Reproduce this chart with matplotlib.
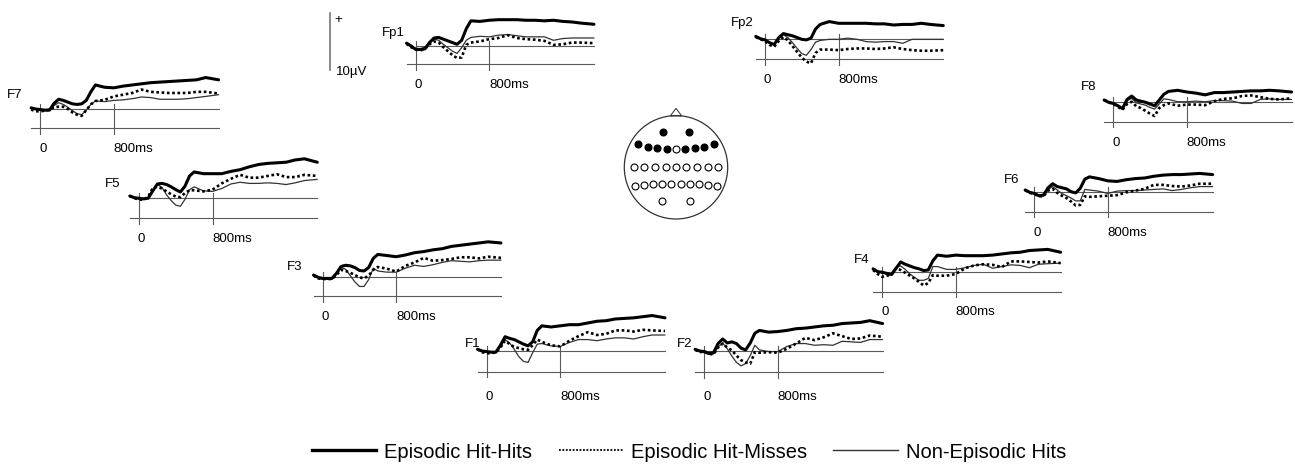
import matplotlib
matplotlib.use("Agg")
import matplotlib.pyplot as plt
from matplotlib.lines import Line2D
from matplotlib.patches import Circle, Polygon

plt.rcParams["font.family"] = ["Liberation Sans", "DejaVu Sans"]

W, H, DPI = 1295, 471, 100

# ── data: grand-average ERPs (µV, positive up) ─────────────────────────────
T_MS = [-100, -50, 0, 50, 100, 150, 200, 250, 300, 350, 400, 450, 500, 550,
        600, 700, 800, 900, 1000, 1100, 1200, 1300, 1400, 1500, 1600, 1700,
        1800, 1940]

ELECTRODES = ["Fp1", "Fp2", "F7", "F8", "F5", "F6", "F3", "F4", "F1", "F2"]

HIT_HITS = {
    "Fp1": [0.5, 0.0, -0.6, -0.6, -0.5, 0.6, 1.4, 1.5, 1.2, 0.9, 0.6, 0.3, 1.0, 3.0, 4.4,
            4.3, 4.5, 4.6, 4.6, 4.6, 4.5, 4.5, 4.4, 4.5, 4.3, 4.2, 4.0, 3.8],
    "Fp2": [0.5, 0.1, -0.1, -0.6, -0.9, 0.3, 1.0, 0.8, 0.6, 0.3, 0.0, -0.1, 0.2, 1.8, 2.6,
            3.1, 2.8, 2.8, 2.8, 2.8, 2.7, 2.7, 2.5, 2.6, 2.6, 2.8, 2.6, 2.4],
    "F7": [0.2, 0.0, -0.1, -0.2, -0.2, 1.0, 1.7, 1.5, 1.2, 0.9, 0.8, 0.9, 1.5, 3.0, 4.2,
           3.8, 3.7, 4.0, 4.2, 4.4, 4.6, 4.7, 4.8, 4.9, 5.0, 5.1, 5.5, 5.1],
    "F8": [0.4, 0.0, -0.2, -0.6, -1.1, 0.5, 1.1, 0.4, 0.2, 0.0, -0.3, -0.6, 0.4, 1.4, 1.9,
           2.1, 1.8, 1.6, 1.3, 1.7, 1.7, 1.8, 1.9, 2.0, 2.0, 2.1, 2.0, 1.8],
    "F5": [0.3, 0.0, -0.1, -0.2, -0.1, 1.2, 2.4, 2.5, 2.3, 1.9, 1.4, 1.0, 2.0, 3.8, 4.5,
           4.2, 4.2, 4.2, 4.6, 4.9, 5.4, 5.8, 6.0, 6.1, 6.2, 6.6, 6.8, 6.2],
    "F6": [0.4, 0.0, -0.2, -0.6, -0.5, 0.8, 1.5, 1.0, 0.8, 0.6, 0.1, -0.1, 0.7, 2.3, 2.7,
           2.4, 2.0, 1.9, 2.2, 2.4, 2.5, 2.8, 3.0, 3.1, 3.1, 3.2, 3.3, 3.1],
    "F3": [0.4, 0.0, -0.2, -0.2, -0.2, 0.7, 1.9, 2.1, 2.0, 1.7, 1.2, 1.1, 1.7, 3.3, 4.0,
           3.8, 3.6, 3.9, 4.3, 4.5, 4.8, 5.0, 5.4, 5.6, 5.8, 6.0, 6.2, 6.0],
    "F4": [0.5, 0.0, -0.1, -0.3, -0.5, 0.6, 1.7, 1.3, 1.0, 0.7, 0.5, 0.2, 0.3, 1.9, 2.9,
           2.7, 2.9, 2.8, 2.8, 2.8, 2.9, 3.1, 3.3, 3.4, 3.7, 3.8, 3.9, 3.4],
    "F1": [0.3, 0.0, -0.1, -0.2, -0.2, 1.0, 2.5, 2.2, 2.0, 1.6, 1.2, 0.9, 1.6, 3.6, 4.4,
           4.2, 4.4, 4.6, 4.6, 4.9, 5.2, 5.3, 5.6, 5.7, 5.8, 6.0, 6.2, 5.8],
    "F2": [0.3, 0.0, -0.1, -0.4, -0.3, 1.3, 2.1, 1.4, 1.6, 1.3, 0.5, 0.2, 1.4, 3.1, 3.6,
           3.3, 3.4, 3.6, 3.9, 4.0, 4.2, 4.4, 4.5, 4.8, 4.9, 5.0, 5.3, 4.8],
}

HIT_MISSES = {
    "Fp1": [0.4, -0.2, -0.6, -0.8, -0.5, 0.3, 0.8, 0.6, -0.2, -0.9, -1.6, -2.1, -2.0, 0.2, 0.6,
            0.8, 1.2, 1.4, 1.9, 1.4, 1.2, 1.1, 0.9, 0.2, 0.3, 0.6, 0.6, 0.5],
    "Fp2": [0.4, 0.0, -0.3, -1.0, -1.3, -0.3, 0.4, -0.2, -1.2, -2.2, -3.2, -3.9, -4.2, -2.4, -1.8,
            -1.8, -1.9, -1.7, -1.6, -1.6, -1.7, -1.6, -1.4, -1.7, -1.9, -2.0, -2.0, -1.9],
    "F7": [-0.1, -0.4, -0.4, -0.3, -0.1, 0.3, 0.4, 0.4, 0.0, -0.6, -1.0, -1.2, -0.2, 0.8, 1.4,
           1.6, 2.2, 2.5, 2.8, 3.4, 3.0, 2.9, 2.8, 2.8, 2.8, 3.0, 3.0, 2.7],
    "F8": [0.4, 0.0, -0.3, -0.8, -1.3, -0.3, 0.1, -0.7, -1.0, -1.5, -2.0, -2.4, -1.0, -0.5, -0.2,
           -0.6, -0.4, -0.4, -0.5, 0.2, 0.6, 0.7, 1.1, 1.2, 0.9, 0.6, 0.5, 0.7],
    "F5": [0.3, -0.1, -0.3, -0.4, 0.2, 1.7, 1.9, 1.6, 1.1, 0.6, 0.2, 0.1, 0.8, 1.3, 1.3,
           1.1, 1.4, 2.5, 3.3, 4.0, 3.5, 3.5, 3.8, 4.1, 3.6, 3.6, 4.0, 3.8],
    "F6": [0.4, -0.1, -0.3, -0.7, -0.7, 0.3, 0.6, -0.1, -0.6, -1.0, -1.6, -2.3, -2.2, -0.7, -0.8,
           -0.7, -0.6, -0.5, 0.0, 0.3, 0.6, 1.3, 1.3, 1.1, 1.0, 1.2, 1.5, 1.5],
    "F3": [0.3, -0.2, -0.3, -0.3, -0.3, 0.4, 1.3, 1.1, 0.8, 0.4, 0.0, -0.2, 0.3, 1.3, 1.8,
           1.5, 1.0, 2.0, 2.6, 3.4, 2.9, 3.0, 3.2, 3.5, 3.5, 3.3, 3.6, 3.4],
    "F4": [0.3, -0.4, -0.9, -0.7, -0.5, 0.6, 0.3, -0.2, -0.7, -1.2, -1.8, -2.4, -2.0, -0.6, -0.7,
           -0.7, -0.4, 0.6, 1.1, 1.3, 1.2, 0.8, 1.8, 1.8, 1.7, 1.6, 1.8, 1.5],
    "F1": [0.3, -0.2, -0.4, -0.4, -0.2, 0.6, 1.8, 1.2, 0.7, 0.5, 0.3, 0.2, 1.0, 2.0, 1.6,
           1.0, 0.8, 1.8, 2.6, 3.3, 2.8, 3.0, 3.6, 3.6, 3.4, 3.7, 3.6, 3.5],
    "F2": [0.2, -0.2, -0.1, -0.5, -0.6, 0.6, 1.3, 0.6, 0.1, -0.8, -1.6, -2.0, -2.2, -0.2, -0.3,
           -0.2, -0.3, 0.4, 1.3, 2.3, 1.9, 2.4, 3.1, 2.6, 2.1, 2.2, 2.7, 2.5],
}

NON_EPISODIC = {
    "Fp1": [0.5, 0.0, -0.4, -0.5, -0.2, 0.6, 1.2, 1.0, 0.3, -0.3, -0.9, -1.3, -0.3, 1.0, 1.5,
            1.7, 1.6, 1.9, 2.0, 1.8, 1.6, 1.6, 1.6, 1.0, 1.3, 1.4, 1.4, 1.4],
    "Fp2": [0.5, 0.1, -0.1, -0.7, -0.9, 0.2, 0.8, 0.3, -0.6, -1.6, -2.5, -2.8, -1.8, -0.5, -0.2,
            0.0, 0.0, 0.2, 0.0, -0.4, -0.5, -0.4, -0.4, -0.7, 0.0, 0.0, 0.0, 0.0],
    "F7": [0.2, 0.0, -0.2, -0.3, -0.1, 0.6, 1.1, 0.8, 0.3, -0.3, -0.8, -1.0, -0.2, 0.8, 1.4,
           1.3, 1.5, 1.6, 1.8, 2.1, 2.0, 1.7, 1.7, 1.7, 1.8, 2.0, 2.2, 2.5],
    "F8": [0.4, 0.0, -0.2, -0.6, -1.0, 0.3, 0.7, -0.1, -0.3, -0.5, -0.9, -1.2, -0.3, 0.6, 0.5,
           0.1, 0.1, 0.2, 0.1, 0.3, 0.3, 0.2, -0.2, -0.2, 0.5, 0.6, 0.5, 0.5],
    "F5": [0.3, 0.0, -0.2, -0.3, 0.0, 1.2, 2.3, 1.8, 0.5, -0.5, -1.3, -1.5, -0.3, 1.4, 1.9,
           1.2, 1.1, 1.6, 2.4, 2.7, 2.5, 2.5, 2.6, 2.5, 2.3, 2.6, 3.0, 3.2],
    "F6": [0.4, 0.0, -0.2, -0.6, -0.6, 0.5, 1.0, 0.4, -0.2, -0.6, -1.0, -1.5, -1.5, 0.5, 0.4,
           0.2, -0.2, 0.2, 0.3, 0.3, 0.4, 0.5, 0.6, 0.3, 0.5, 0.8, 1.0, 1.0],
    "F3": [0.4, 0.0, -0.3, -0.3, -0.2, 0.7, 1.7, 1.4, 0.3, -0.8, -1.6, -1.6, -0.4, 1.6, 1.1,
           0.9, 0.9, 1.6, 2.1, 1.9, 2.2, 2.6, 2.9, 2.8, 2.7, 2.9, 3.0, 3.0],
    "F4": [0.5, 0.0, -0.2, -0.4, -0.3, 0.8, 1.0, 0.4, -0.4, -1.0, -1.5, -1.5, -1.2, 0.9, 0.9,
           0.4, 0.4, 0.7, 1.1, 1.3, 0.6, 0.9, 1.2, 1.1, 0.7, 1.3, 1.4, 1.5],
    "F1": [0.3, 0.0, -0.2, -0.2, -0.2, 0.8, 2.0, 1.4, 0.3, -1.0, -1.8, -2.0, -0.3, 1.2, 1.3,
           0.9, 0.8, 1.5, 2.0, 2.0, 1.8, 2.1, 2.3, 2.3, 2.1, 2.5, 2.8, 2.8],
    "F2": [0.3, -0.1, -0.3, -0.6, -0.5, 0.7, 1.4, 0.4, -0.9, -2.0, -2.6, -2.2, -0.8, 1.0, 0.2,
           -0.1, -0.1, 0.8, 1.3, 1.3, 1.0, 1.1, 1.0, 1.7, 1.6, 1.5, 2.0, 2.0],
}

CONDITIONS = ["Episodic Hit-Hits", "Episodic Hit-Misses", "Non-Episodic Hits"]
SCALE_UV = 10

# head montage (unit head radius); True = electrode shown in the figure
MONTAGE_X = [-0.25, 0.25,
             -0.73, -0.55, -0.36, -0.18, 0.0, 0.18, 0.36, 0.55, 0.73,
             -0.81, -0.61, -0.41, -0.20, 0.0, 0.20, 0.41, 0.61, 0.81,
             -0.80, -0.62, -0.445, -0.27, -0.09, 0.09, 0.27, 0.445, 0.62, 0.80,
             -0.265, 0.265]
MONTAGE_Y = [0.68, 0.68,
             0.445, 0.40, 0.38, 0.354, 0.35, 0.354, 0.38, 0.40, 0.445,
             0.01, 0.01, 0.01, 0.01, 0.01, 0.01, 0.01, 0.01, 0.01,
             -0.36, -0.34, -0.33, -0.32, -0.32, -0.32, -0.32, -0.33, -0.34, -0.36,
             -0.65, -0.65]
MONTAGE_ON = [True, True,
              True, True, True, True, False, True, True, True, True] + [False] * 21

# ── layout (pixels) ───────────────────────────────────────────────────────
# name: (x of t=0, baseline y, gap to time axis, label x, label y, tick-label y)
PANEL_POS = {
    "Fp1": (415.7, 46.0, 18.3, 393.0, 33.0, 85.0),
    "Fp2": (765.0, 39.3, 20.0, 742.7, 23.3, 80.0),
    "F7": (40.3, 109.0, 19.3, 15.0, 95.0, 149.0),
    "F8": (1113.3, 102.3, 19.4, 1089.0, 86.7, 142.7),
    "F5": (139.0, 197.7, 20.6, 113.0, 184.0, 239.0),
    "F6": (1034.3, 192.3, 19.4, 1011.7, 180.0, 233.3),
    "F3": (322.7, 277.3, 18.7, 295.0, 266.7, 316.7),
    "F4": (882.3, 271.7, 20.0, 861.7, 260.0, 312.3),
    "F1": (486.7, 351.0, 20.7, 472.7, 344.3, 396.7),
    "F2": (704.3, 351.0, 21.3, 684.3, 344.3, 396.7),
}
SX = 0.0919   # px per ms
SY = 5.72     # px per µV
XLIM = (-150, 2000)
YLIM = (-8, 9)
AXIS_COLOR = "#5a5a5a"
STYLES = [
    dict(color="black", lw=2.2, ls="-"),
    dict(color="black", lw=1.9, ls=(0, (1, 1))),
    dict(color="#333333", lw=0.9, ls="-"),
]
# the legend sample of the dotted trace is finer than in the panels
LEGEND_STYLES = [
    dict(color="black", lw=2.4, ls="-"),
    dict(color="black", lw=1.3, ls=(0, (1, 0.9))),
    dict(color="#333333", lw=1.0, ls="-"),
]


def px_rect(left, top, w, h):
    return [left / W, 1 - (top + h) / H, w / W, h / H]


def draw_panel(fig, name):
    x0, yb, gap, lx, ly, tly = PANEL_POS[name]
    ax = fig.add_axes(px_rect(x0 + XLIM[0] * SX, yb - YLIM[1] * SY,
                              (XLIM[1] - XLIM[0]) * SX, (YLIM[1] - YLIM[0]) * SY))
    ax.set_xlim(XLIM)
    ax.set_ylim(YLIM)
    ax.axis("off")

    axis_uv = -gap / SY
    t_end = T_MS[-1]
    ax.plot([0, t_end], [0, 0], color=AXIS_COLOR, lw=0.8)
    ax.plot([T_MS[0], t_end], [axis_uv, axis_uv], color=AXIS_COLOR, lw=0.8)
    for t in (0, 800):
        ax.plot([t, t], [0.9, axis_uv - 1.0], color=AXIS_COLOR, lw=0.8)

    for series, st in zip([NON_EPISODIC, HIT_MISSES, HIT_HITS], STYLES[::-1]):
        ax.plot(T_MS, series[name], solid_capstyle="round", **st)

    lab_uv = (yb - tly) / SY
    ax.text(2.5 / SX, lab_uv, "0", ha="center", va="center", fontsize=9.5)
    ax.text(800, lab_uv, "800ms", ha="left", va="center", fontsize=9.5)
    fig.text(lx / W, 1 - ly / H, name, ha="center", va="center", fontsize=9.5)


def draw_head(fig):
    cx, cy, r = 676.0, 167.3, 51.7
    ax = fig.add_axes(px_rect(cx - 1.3 * r, cy - 1.3 * r, 2.6 * r, 2.6 * r))
    ax.set_xlim(-1.3, 1.3)
    ax.set_ylim(-1.3, 1.3)
    ax.axis("off")
    ax.add_patch(Polygon([(-0.11, 0.994), (0, 1.14), (0.11, 0.994)], closed=True,
                         fc="white", ec="#444444", lw=0.8))
    ax.add_patch(Circle((0, 0), 1.0, fill=False, ec="#333333", lw=0.9))
    for x, y, on in zip(MONTAGE_X, MONTAGE_Y, MONTAGE_ON):
        ax.plot(x, y, "o", ms=5.0, mew=0.8, mec="black",
                mfc="black" if on else "white")


def draw_scale(fig):
    xb, top = 329.5, 12.7
    ax = fig.add_axes(px_rect(xb - 10, top, 20, SCALE_UV * SY))
    ax.set_xlim(-1, 1)
    ax.set_ylim(0, SCALE_UV)
    ax.axis("off")
    ax.plot([0, 0], [0, SCALE_UV], color="#777777", lw=1.2, clip_on=False)
    fig.text(334.5 / W, 1 - 20 / H, "+", ha="left", va="center", fontsize=9.5)
    fig.text(336 / W, 1 - 71.5 / H, f"{SCALE_UV}µV", ha="left", va="center",
             fontsize=9.5)


def main():
    fig = plt.figure(figsize=(W / DPI, H / DPI), dpi=DPI)
    for name in ELECTRODES:
        draw_panel(fig, name)
    draw_head(fig)
    draw_scale(fig)

    handles = [Line2D([], [], **st) for st in LEGEND_STYLES]
    fig.legend(handles, CONDITIONS, loc="center",
               bbox_to_anchor=(689 / W, 1 - 452 / H), ncol=3, frameon=False,
               fontsize=14.5, handlelength=3.2, handletextpad=0.4,
               columnspacing=1.3)

    fig.savefig("out.png", dpi=DPI, facecolor="white")
    plt.close(fig)


if __name__ == "__main__":
    main()
